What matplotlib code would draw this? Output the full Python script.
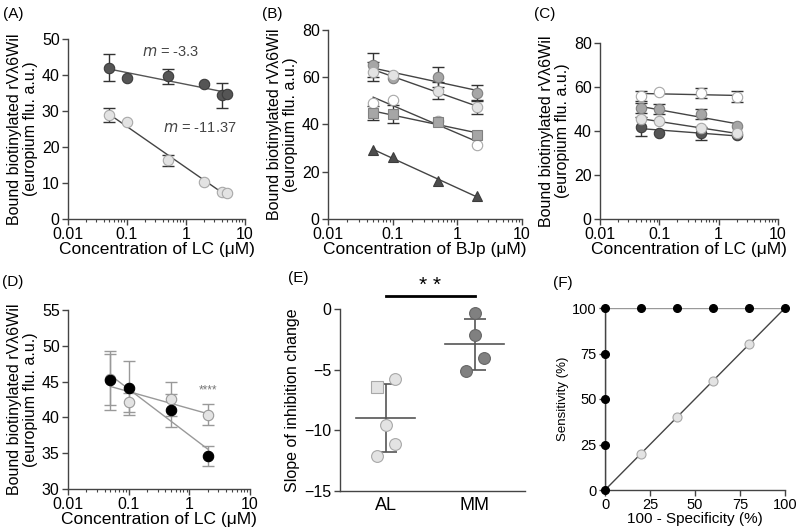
import numpy as np
import matplotlib as mpl
mpl.rcParams.update({
    'font.family': 'Liberation Sans',
    'font.size': 11.5,
    'axes.linewidth': 1.0,
    'axes.edgecolor': '#444444'})
import matplotlib.pyplot as plt

#%% Data

conc_a = np.array([0.05, 0.1, 0.5, 2, 4, 5])
a_dark = np.array([42.0, 39.3, 39.7, 37.5, 34.4, 34.8])
a_dark_sd = np.array([3.7, 0, 2.1, 0, 3.5, 0])
a_light = np.array([28.8, 27.0, 16.3, 10.2, 7.6, 7.2])
a_light_sd = np.array([1.95, 0, 1.6, 0, 0, 0])

conc = np.array([0.05, 0.1, 0.5, 2])
b_medium = np.array([65.0, 59.7, 60.2, 53.5])
b_medium_sd = np.array([5.1, 0, 4.3, 3.2])
b_light = np.array([62.4, 61.0, 54.3, 47.2])
b_light_sd = np.array([4.1, 0, 3.5, 2.8])
b_square = np.array([44.8, 44.5, 41.2, 35.6])
b_square_sd = np.array([3.0, 3.9, 0, 0])
b_white = np.array([49.0, 50.4, 41.5, 31.3])
b_white_sd = np.array([0, 0, 0, 0])
b_tri = np.array([29.2, 26.4, 16.0, 9.8])
b_tri_sd = np.array([0, 0, 0, 0])

c_white = np.array([56.0, 57.9, 57.1, 55.6])
c_white_sd = np.array([2.2, 0, 2.3, 2.4])
c_medium = np.array([50.3, 50.0, 47.6, 42.4])
c_medium_sd = np.array([2.2, 2.1, 2.2, 0])
c_light = np.array([45.5, 44.5, 41.2, 39.0])
c_light_sd = np.array([0, 0, 0, 0])
c_dark = np.array([42.0, 39.3, 39.0, 38.0])
c_dark_sd = np.array([4.2, 0, 3.0, 0])

d_black = np.array([45.2, 44.1, 41.0, 34.6])
d_black_sd = np.array([4.1, 3.8, 2.3, 1.4])
d_light = np.array([45.3, 42.1, 42.6, 40.4])
d_light_sd = np.array([3.5, 1.3, 2.4, 1.45])

e_groups = ['AL', 'MM']
e_al_x = np.array([-0.1, 0.1, 0.0, 0.1, -0.1])
e_al = np.array([-6.45, -5.77, -9.56, -11.13, -12.12])
e_al_marker = ['s', 'o', 'o', 'o', 'o']
e_mm_x = np.array([0.0, 0.0, 0.1, -0.1])
e_mm = np.array([-0.36, -2.14, -4.07, -5.08])

f_ref_x = [0, 0, 0, 0, 0, 20, 40, 60, 80, 100]
f_ref_y = [0, 25, 50, 75, 100, 100, 100, 100, 100, 100]
f_diag_x = [0, 20, 40, 60, 80, 100]
f_diag_y = [0, 20, 40, 60, 80, 100]

#%% Styles
DARK = dict(mfc='#555555', mec='#3c3c3c')
MED = dict(mfc='#a6a6a6', mec='#808080')
LIGHT = dict(mfc='#e3e3e3', mec='#a8a8a8')
WHITE = dict(mfc='white', mec='#a8a8a8')

W, H = 800, 531


def add_axes(fig, x0, x1, y0, y1, fs=11.5):
    ax = fig.add_axes([x0 / W, 1 - y1 / H, (x1 - x0) / W, (y1 - y0) / H])
    ax.spines['top'].set_visible(False)
    ax.spines['right'].set_visible(False)
    ax.tick_params(which='major', length=4, width=1, color='#444444', pad=2,
                   labelsize=fs)
    ax.tick_params(which='minor', length=2, width=0.8, color='#444444')
    return ax


def log_axis(ax, xlabel):
    ax.set_xscale('log')
    ax.set_xlim(0.01, 10)
    ax.set_xticks([0.01, 0.1, 1, 10])
    ax.set_xticklabels(['0.01', '0.1', '1', '10'])
    ax.tick_params(axis='x', pad=1.5)
    ax.set_xlabel(xlabel, labelpad=0.5, fontsize=12.5)
    ax.set_ylabel('Bound biotinylated rV\u03bb6Wil\n(europium flu. a.u.)',
                  labelpad=3, linespacing=1.05, fontsize=11.5)


def series(ax, x, y, sd, marker='o', ms=7.5, fit=True, lcolor='#444444',
           ecolor='#333333', lw=1.0, **style):
    if fit:
        p = np.polyfit(np.log10(x), y, 1)
        xx = np.array([x.min(), x.max()])
        ax.plot(xx, np.polyval(p, np.log10(xx)), color=lcolor, lw=lw, zorder=2)
    m = sd > 0
    if m.any():
        ax.errorbar(x[m], y[m], yerr=sd[m], fmt='none', ecolor=ecolor,
                    elinewidth=1, capsize=4, capthick=1, zorder=3)
    ax.plot(x, y, ls='none', marker=marker, ms=ms, mew=0.8, zorder=4,
            clip_on=False, **style)


fig = plt.figure(figsize=(8, 5.31), dpi=100)

#%% (A)
ax = add_axes(fig, 68, 245, 39, 219)
series(ax, conc_a, a_dark, a_dark_sd, lcolor='#555555', **DARK)
series(ax, conc_a, a_light, a_light_sd, lcolor='#444444', **LIGHT)
ax.set_ylim(0, 50)
ax.set_yticks([0, 10, 20, 30, 40, 50])
log_axis(ax, 'Concentration of LC (\u03bcM)')
ax.text(0.18, 46.4, '$m$ = -3.3', fontsize=10.5, color='#444444', va='center')
ax.text(0.40, 25.3, '$m$ = -11.37', fontsize=10.5, color='#444444', va='center')

#%% (B)
ax = add_axes(fig, 328, 522, 30, 219)
series(ax, conc, b_medium, b_medium_sd, **MED)
series(ax, conc, b_light, b_light_sd, **LIGHT)
series(ax, conc, b_white, b_white_sd, **WHITE)
series(ax, conc, b_square, b_square_sd, marker='s', ms=7, **MED)
series(ax, conc, b_tri, b_tri_sd, marker='^', ms=7.5, mfc='#4d4d4d', mec='#3c3c3c')
ax.set_ylim(0, 80)
ax.set_yticks([0, 20, 40, 60, 80])
log_axis(ax, 'Concentration of BJp (\u03bcM)')

#%% (C)
ax = add_axes(fig, 600, 778, 43, 219)
series(ax, conc, c_white, c_white_sd, **WHITE)
series(ax, conc, c_medium, c_medium_sd, **MED)
series(ax, conc, c_dark, c_dark_sd, **DARK)
series(ax, conc, c_light, c_light_sd, **LIGHT)
ax.set_ylim(0, 80)
ax.set_yticks([0, 20, 40, 60, 80])
log_axis(ax, 'Concentration of LC (\u03bcM)')

#%% (D)
ax = add_axes(fig, 68, 250, 310, 489)
series(ax, conc, d_light, d_light_sd, lcolor='#999999', ecolor='#999999',
       mfc='#e3e3e3', mec='#999999')
series(ax, conc, d_black, d_black_sd, lcolor='#999999', ecolor='#999999',
       mfc='black', mec='black')
ax.set_ylim(30, 55)
ax.set_yticks([30, 35, 40, 45, 50, 55])
log_axis(ax, 'Concentration of LC (\u03bcM)')
ax.text(2, 42.9, '****', fontsize=8.5, color='#777777', ha='center', va='bottom')

#%% (E)
ax = add_axes(fig, 340, 525, 309, 491)
for i, vals, offs in [(1, e_al, e_al_x), (2, e_mm, e_mm_x)]:
    mean, sd = vals.mean(), vals.std(ddof=1)
    ax.plot([i - 0.33, i + 0.33], [mean, mean], color='#555555', lw=1.2, zorder=2)
    ax.errorbar([i], [mean], yerr=[sd], fmt='none', ecolor='#555555',
                elinewidth=1.2, capsize=8, capthick=1.2, zorder=2)
for xo, yv, mk in zip(e_al_x, e_al, e_al_marker):
    ax.plot(1 + xo, yv, ls='none', marker=mk, ms=8.5 if mk == 'o' else 9,
            mew=0.8, zorder=4, clip_on=False, **LIGHT)
ax.plot(2 + e_mm_x, e_mm, ls='none', marker='o', ms=8.5, mew=0.8, zorder=4,
        mfc='#808080', mec='#666666', clip_on=False)
ax.plot([1, 2], [1.1, 1.1], color='black', lw=2, clip_on=False)
ax.text(1.5, 1.15, '* *', fontsize=15, ha='center', va='bottom')
ax.set_xlim(0.49, 2.56)
ax.set_ylim(-15, 0)
ax.set_yticks([0, -5, -10, -15])
ax.set_xticks([1, 2])
ax.set_xticklabels(e_groups, fontsize=13)
ax.tick_params(axis='x', length=0, pad=4)
ax.set_ylabel('Slope of inhibition change', labelpad=3, fontsize=11.5)

#%% (F)
ax = add_axes(fig, 605, 785, 308, 490, fs=10.5)
ax.plot(f_ref_x[4:], f_ref_y[4:], color='#999999', lw=1, zorder=2)
ax.plot(f_ref_x[:5], f_ref_y[:5], color='#555555', lw=1, zorder=2)
ax.plot(f_diag_x, f_diag_y, color='#444444', lw=1, zorder=2)
ax.plot(f_diag_x[1:-1], f_diag_y[1:-1], ls='none', marker='o', ms=6.5, mew=0.8,
        zorder=4, clip_on=False, **LIGHT)
ax.plot(f_ref_x, f_ref_y, ls='none', marker='o', ms=5.5, color='black',
        zorder=5, clip_on=False)
ax.set_xlim(0, 100)
ax.set_ylim(0, 100)
ax.set_xticks([0, 25, 50, 75, 100])
ax.set_yticks([0, 25, 50, 75, 100])
ax.tick_params(axis='x', pad=1.5)
ax.set_xlabel('100 - Specificity (%)', labelpad=0.5, fontsize=11)
ax.set_ylabel('Sensitivity (%)', labelpad=2, fontsize=9.5)

#%% Panel letters
for lab, x, y in [('(A)', 3, 14), ('(B)', 262, 14), ('(C)', 534, 14),
                  ('(D)', 2, 282), ('(E)', 288, 278), ('(F)', 553, 283)]:
    fig.text(x / W, 1 - y / H, lab, fontsize=11, va='center', ha='left')

fig.savefig('out.png', dpi=100)
